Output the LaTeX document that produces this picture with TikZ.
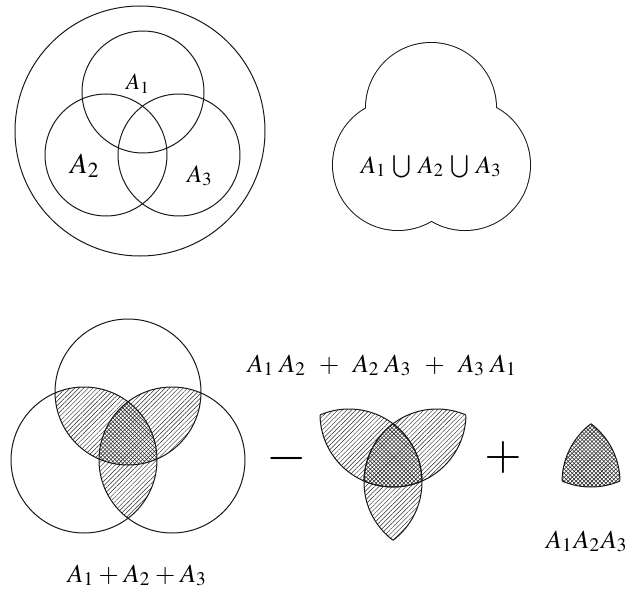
\documentclass[tikz,border=0pt]{standalone}
\usepackage{mathptmx}
\usetikzlibrary{patterns.meta}
\tikzset{
  outl/.style={line width=1pt, draw=black!90},
  hatch/.style={pattern={Lines[angle=45,distance=3.2pt,line width=0.45pt]}, pattern color=black!85},
  xha/.style={pattern={Lines[angle=45,distance=2.8pt,line width=0.55pt]}, pattern color=black!85},
  xhb/.style={pattern={Lines[angle=-45,distance=2.8pt,line width=0.55pt]}, pattern color=black!85},
  lbl/.style={inner sep=0pt, font=\fontsize{26}{28}\selectfont},
}
\begin{document}
\begin{tikzpicture}[x=1pt,y=-1pt]
\useasboundingbox (0,0) rectangle (635,594);
% ---------- top left ----------
\coordinate (O) at (140,131);
\coordinate (C1) at (143,92);
\coordinate (C2) at (106,155);
\coordinate (C3) at (179,155);
\draw[outl] (O) circle[radius=125];
\draw[outl] (C1) circle[radius=61];
\draw[outl] (C2) circle[radius=61];
\draw[outl] (C3) circle[radius=61];
\node[lbl, font=\fontsize{23}{25}\selectfont, anchor=base west] (a1) at (126,90) {$A_1$};
\node[lbl, font=\fontsize{29}{31}\selectfont, anchor=base west] (a2) at (70,173) {$A_2$};
\node[lbl, font=\fontsize{25}{27}\selectfont, anchor=base west] (a3) at (187,182) {$A_3$};
% ---------- top right union ----------
\coordinate (U1) at (431,108);
\coordinate (U2) at (398,165);
\coordinate (U3) at (465,165);
\draw[line width=2pt, black!90] (U1) circle[radius=65] (U2) circle[radius=65] (U3) circle[radius=65];
\fill[white] (U1) circle[radius=65] (U2) circle[radius=65] (U3) circle[radius=65];
\node[lbl, font=\fontsize{25}{27}\selectfont, anchor=base] (u) at (431,173) {$A_1\mkern5mu{\bigcup}\mkern5mu A_2\mkern5mu{\bigcup}\mkern5mu A_3$};
% ---------- bottom left Venn ----------
\coordinate (T1) at (128,392);
\coordinate (L1) at (84,460);
\coordinate (R1) at (172,460);
\begin{scope}\clip (T1) circle[radius=73]; \fill[hatch] (L1) circle[radius=73]; \fill[hatch] (R1) circle[radius=73];\end{scope}
\begin{scope}\clip (L1) circle[radius=73]; \fill[hatch] (R1) circle[radius=73];\end{scope}
\begin{scope}\clip (T1) circle[radius=73]; \clip (L1) circle[radius=73];
  \fill[white] (R1) circle[radius=73]; \fill[xha] (R1) circle[radius=73]; \fill[xhb] (R1) circle[radius=73];\end{scope}
\draw[outl] (T1) circle[radius=73];
\draw[outl] (L1) circle[radius=73];
\draw[outl] (R1) circle[radius=73];
\node[lbl, anchor=base] (s) at (137,582) {$A_1\mkern1mu+\mkern1mu A_2\mkern1mu+\mkern1mu A_3$};
% ---------- middle: pairwise ----------
\coordinate (T2) at (393,414);
\coordinate (L2) at (349,482);
\coordinate (R2) at (437,482);
\begin{scope}\clip (T2) circle[radius=73]; \fill[hatch] (L2) circle[radius=73]; \fill[hatch] (R2) circle[radius=73];\end{scope}
\begin{scope}\clip (L2) circle[radius=73]; \fill[hatch] (R2) circle[radius=73];\end{scope}
\begin{scope}\clip (T2) circle[radius=73]; \clip (L2) circle[radius=73];
  \fill[white] (R2) circle[radius=73]; \fill[xha] (R2) circle[radius=73]; \fill[xhb] (R2) circle[radius=73];\end{scope}
\begin{scope}\clip (L2) circle[radius=73]; \draw[outl] (T2) circle[radius=73]; \draw[outl] (R2) circle[radius=73];\end{scope}
\begin{scope}\clip (R2) circle[radius=73]; \draw[outl] (T2) circle[radius=73]; \draw[outl] (L2) circle[radius=73];\end{scope}
\begin{scope}\clip (T2) circle[radius=73]; \draw[outl] (L2) circle[radius=73]; \draw[outl] (R2) circle[radius=73];\end{scope}
\node[lbl, anchor=base] (p) at (382,372) {$A_1\mkern4mu A_2\mkern7mu+\mkern7mu A_2\mkern4mu A_3\mkern7mu+\mkern7mu A_3\mkern4mu A_1$};
% ---------- right: triple ----------
\coordinate (T3) at (591,414);
\coordinate (L3) at (547,482);
\coordinate (R3) at (635,482);
\begin{scope}\clip (T3) circle[radius=73]; \clip (L3) circle[radius=73];
  \fill[white] (R3) circle[radius=73]; \fill[xha] (R3) circle[radius=73]; \fill[xhb] (R3) circle[radius=73];
  \draw[outl] (R3) circle[radius=73];\end{scope}
\begin{scope}\clip (T3) circle[radius=73]; \clip (R3) circle[radius=73]; \draw[outl] (L3) circle[radius=73];\end{scope}
\begin{scope}\clip (L3) circle[radius=73]; \clip (R3) circle[radius=73]; \draw[outl] (T3) circle[radius=73];\end{scope}
\node[lbl, anchor=base west] (t) at (546,548) {$A_1\mkern1mu A_2\mkern1mu A_3$};
% ---------- operators ----------
\node[inner sep=0pt, font=\fontsize{52}{54}\selectfont] (minus) at (287,458) {$-$};
\node[inner sep=0pt, font=\fontsize{48}{50}\selectfont] (plus) at (503,458) {$+$};
\end{tikzpicture}
\end{document}
